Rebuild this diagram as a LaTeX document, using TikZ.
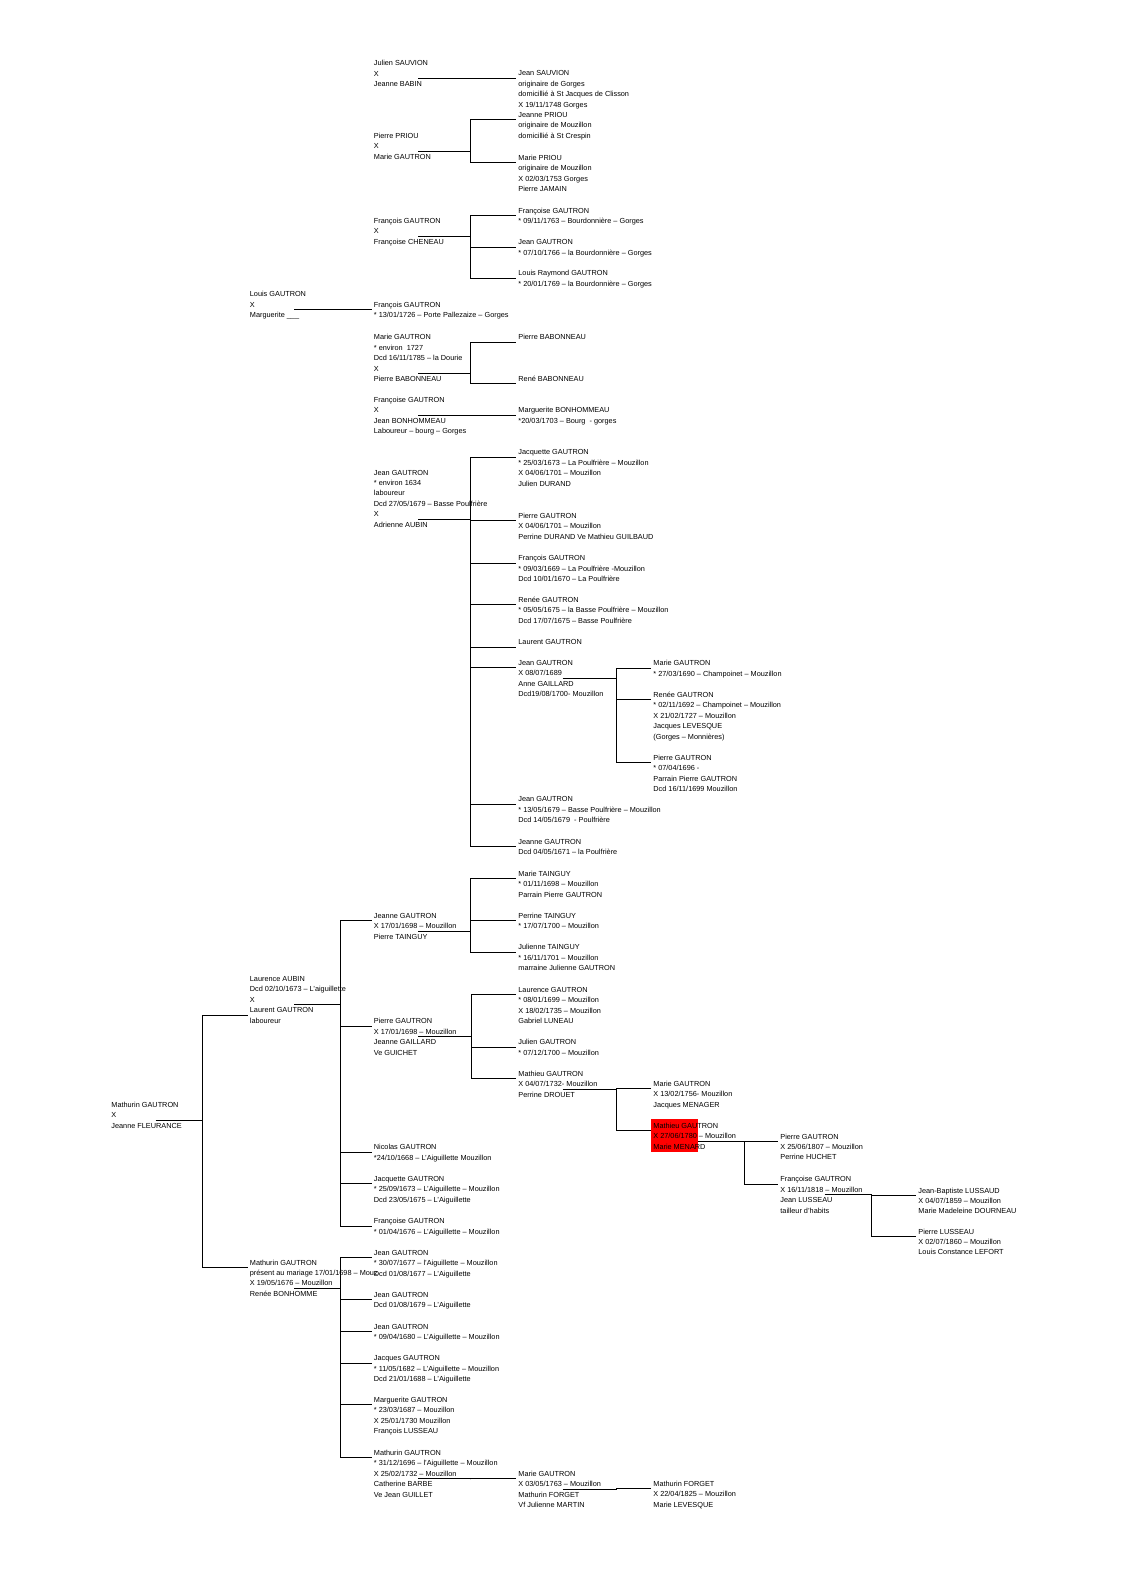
\documentclass[tikz,border=0pt]{standalone}
\usepackage{fontspec}
\setmainfont{Liberation Sans}
\usetikzlibrary{calc,backgrounds}

\newcommand{\fiche}[1]{\begin{tabular}{@{}l@{}}#1\end{tabular}}
% couple line from the parent's X row, then one branch per child
\newcommand{\famille}[4]{%
  \coordinate (#1-j) at ($(#1.north west)+(#3,{10.1+10.45*#2})$);
  \draw[link] ($(#1.north west)+(44.5,{10.1+10.45*#2})$) -- (#1-j);
  \foreach \enf/\rg in {#4}
    {\draw[link] (#1-j) |- ($(\enf.north west)+(-2,{10.1+10.45*\rg})$);}
}

\tikzset{
  person/.style={anchor=north west, inner sep=0pt, yshift=2.35pt,
    font=\fontsize{3.66}{5.225}\selectfont},
  link/.style={draw=black, line width=0.5pt}
}

\begin{document}
\begin{tikzpicture}[x=0.5pt, y=-0.5pt]
  \useasboundingbox (0,0) rectangle (1123,1588);

  % Sauvion, Priou
  \node[person] (julien) at (373.5,62.7) {\fiche{Julien SAUVION\\X\\Jeanne BABIN}};
  \node[person] (jeansauvion) at (518,72.7) {\fiche{Jean SAUVION\\originaire de Gorges\\domicillié à St Jacques de Clisson\\X 19/11/1748 Gorges\\Jeanne PRIOU\\originaire de Mouzillon\\domicillié à St Crespin}};
  \node[person] (pierrepriou) at (373.5,135.3) {\fiche{Pierre PRIOU\\X\\Marie GAUTRON}};
  \node[person] (mariepriou) at (518,157.3) {\fiche{Marie PRIOU\\originaire de Mouzillon\\X 02/03/1753 Gorges\\Pierre JAMAIN}};

  % Gorges
  \node[person] (francoise63) at (518,210) {\fiche{Françoise GAUTRON\\{}* 09/11/1763 – Bourdonnière – Gorges}};
  \node[person] (francoisg) at (373.5,220.3) {\fiche{François GAUTRON\\X\\Françoise CHENEAU}};
  \node[person] (jean66) at (518,241.7) {\fiche{Jean GAUTRON\\{}* 07/10/1766 – la Bourdonnière – Gorges}};
  \node[person] (louisraymond) at (518,272.7) {\fiche{Louis Raymond GAUTRON\\{}* 20/01/1769 – la Bourdonnière – Gorges}};
  \node[person] (louis) at (249.5,293.7) {\fiche{Louis GAUTRON\\X\\Marguerite \_\_\_}};
  \node[person] (francois26) at (373.5,304) {\fiche{François GAUTRON\\{}* 13/01/1726 – Porte Pallezaize – Gorges}};
  \node[person] (marie27) at (373.5,336.7) {\fiche{Marie GAUTRON\\{}* environ~~1727\\Dcd 16/11/1785 – la Dourie\\X\\Pierre BABONNEAU}};
  \node[person] (pierrebab) at (518,336.7) {\fiche{Pierre BABONNEAU}};
  \node[person] (renebab) at (518,378.3) {\fiche{René BABONNEAU}};
  \node[person] (francoiseb) at (373.5,399.3) {\fiche{Françoise GAUTRON\\X\\Jean BONHOMMEAU\\Laboureur – bourg – Gorges}};
  \node[person] (marguerite03) at (518,409.7) {\fiche{Marguerite BONHOMMEAU\\{}*20/03/1703 – Bourg~~- gorges}};

  % Poulfriere
  \node[person] (jacquette73) at (518,451.7) {\fiche{Jacquette GAUTRON\\{}* 25/03/1673 – La Poulfrière – Mouzillon\\X 04/06/1701 – Mouzillon\\Julien DURAND}};
  \node[person] (jean34) at (373.5,472) {\fiche{Jean GAUTRON\\{}* environ 1634\\laboureur\\Dcd 27/05/1679 – Basse Poulfrière\\X\\Adrienne AUBIN}};
  \node[person] (pierre01) at (518,515.3) {\fiche{Pierre GAUTRON\\X 04/06/1701 – Mouzillon\\Perrine DURAND Ve Mathieu GUILBAUD}};
  \node[person] (francois69) at (518,557.7) {\fiche{François GAUTRON\\{}* 09/03/1669 – La Poulfrière -Mouzillon\\Dcd 10/01/1670 – La Poulfrière}};
  \node[person] (renee75) at (518,599.3) {\fiche{Renée GAUTRON\\{}* 05/05/1675 – la Basse Poulfrière – Mouzillon\\Dcd 17/07/1675 – Basse Poulfrière}};
  \node[person] (laurent) at (518,641.7) {\fiche{Laurent GAUTRON}};
  \node[person] (jean89) at (518,662.3) {\fiche{Jean GAUTRON\\X 08/07/1689\\Anne GAILLARD\\Dcd19/08/1700- Mouzillon}};
  \node[person] (marie90) at (653,662.7) {\fiche{Marie GAUTRON\\{}* 27/03/1690 – Champoinet – Mouzillon}};
  \node[person] (renee92) at (653,694.3) {\fiche{Renée GAUTRON\\{}* 02/11/1692 – Champoinet – Mouzillon\\X 21/02/1727 – Mouzillon\\Jacques LEVESQUE\\(Gorges – Monnières)}};
  \node[person] (pierre96) at (653,757.3) {\fiche{Pierre GAUTRON\\{}* 07/04/1696 -\\Parrain Pierre GAUTRON\\Dcd 16/11/1699 Mouzillon}};
  \node[person] (jean79) at (518,798.7) {\fiche{Jean GAUTRON\\{}* 13/05/1679 – Basse Poulfrière – Mouzillon\\Dcd 14/05/1679~~- Poulfrière}};
  \node[person] (jeanne71) at (518,841.3) {\fiche{Jeanne GAUTRON\\Dcd 04/05/1671 – la Poulfrière}};

  % Tainguy, Gaillard
  \node[person] (marieT) at (518,873.3) {\fiche{Marie TAINGUY\\{}* 01/11/1698 – Mouzillon\\Parrain Pierre GAUTRON}};
  \node[person] (perrineT) at (518,915.3) {\fiche{Perrine TAINGUY\\{}* 17/07/1700 – Mouzillon}};
  \node[person] (julienneT) at (518,946.7) {\fiche{Julienne TAINGUY\\{}* 16/11/1701 – Mouzillon\\marraine Julienne GAUTRON}};
  \node[person] (jeanne98) at (373.5,915.3) {\fiche{Jeanne GAUTRON\\X 17/01/1698 – Mouzillon\\Pierre TAINGUY}};
  \node[person] (laurence) at (249.5,978.3) {\fiche{Laurence AUBIN\\Dcd 02/10/1673 – L'aiguillette\\X\\Laurent GAUTRON\\laboureur}};
  \node[person] (laurence99) at (518,989.3) {\fiche{Laurence GAUTRON\\{}* 08/01/1699 – Mouzillon\\X 18/02/1735 – Mouzillon\\Gabriel LUNEAU}};
  \node[person] (pierre98) at (373.5,1020.7) {\fiche{Pierre GAUTRON\\X 17/01/1698 – Mouzillon\\Jeanne GAILLARD\\Ve GUICHET}};
  \node[person] (julien00) at (518,1041.7) {\fiche{Julien GAUTRON\\{}* 07/12/1700 – Mouzillon}};
  \node[person] (mathieu32) at (518,1073.3) {\fiche{Mathieu GAUTRON\\X 04/07/1732- Mouzillon\\Perrine DROUET}};
  \node[person] (marie56) at (653,1083.3) {\fiche{Marie GAUTRON\\X 13/02/1756- Mouzillon\\Jacques MENAGER}};
  \node[person] (mathurin) at (111,1104.3) {\fiche{Mathurin GAUTRON\\X\\Jeanne FLEURANCE}};
  \node[person] (mathieu80) at (653,1125.3) {\fiche{Mathieu GAUTRON\\X 27/06/1780 – Mouzillon\\Marie MENARD}};
  \node[person] (pierre07) at (780,1136) {\fiche{Pierre GAUTRON\\X 25/06/1807 – Mouzillon\\Perrine HUCHET}};
  \node[person] (francoise18) at (780,1178.7) {\fiche{Françoise GAUTRON\\X 16/11/1818 – Mouzillon\\Jean LUSSEAU\\tailleur d'habits}};
  \node[person] (jeanbaptiste) at (918,1190) {\fiche{Jean-Baptiste LUSSAUD\\X 04/07/1859 – Mouzillon\\Marie Madeleine DOURNEAU}};
  \node[person] (pierre60) at (918,1231) {\fiche{Pierre LUSSEAU\\X 02/07/1860 – Mouzillon\\Louis Constance LEFORT}};

  % L'Aiguillette
  \node[person] (nicolas) at (373.5,1146.7) {\fiche{Nicolas GAUTRON\\{}*24/10/1668 – L'Aiguillette Mouzillon}};
  \node[person] (jacquette75) at (373.5,1178.3) {\fiche{Jacquette GAUTRON\\{}* 25/09/1673 – L'Aiguillette – Mouzillon\\Dcd 23/05/1675 – L'Aiguillette}};
  \node[person] (francoise76) at (373.5,1220.7) {\fiche{Françoise GAUTRON\\{}* 01/04/1676 – L'Aiguillette – Mouzillon}};
  \node[person] (jean77) at (373.5,1252.3) {\fiche{Jean GAUTRON\\{}* 30/07/1677 – l'Aiguillette – Mouzillon\\Dcd 01/08/1677 – L'Aiguillette}};
  \node[person] (mathurin76) at (249.5,1262) {\fiche{Mathurin GAUTRON\\présent au mariage 17/01/1698 – Mouz\\X 19/05/1676 – Mouzillon\\Renée BONHOMME}};
  \node[person] (jean79b) at (373.5,1294.3) {\fiche{Jean GAUTRON\\Dcd 01/08/1679 – L'Aiguillette}};
  \node[person] (jean80) at (373.5,1326) {\fiche{Jean GAUTRON\\{}* 09/04/1680 – L'Aiguillette – Mouzillon}};
  \node[person] (jacques82) at (373.5,1357.7) {\fiche{Jacques GAUTRON\\{}* 11/05/1682 – L'Aiguillette – Mouzillon\\Dcd 21/01/1688 – L'Aiguillette}};
  \node[person] (marguerite87) at (373.5,1399.3) {\fiche{Marguerite GAUTRON\\{}* 23/03/1687 – Mouzillon\\X 25/01/1730 Mouzillon\\François LUSSEAU}};
  \node[person] (mathurin96) at (373.5,1452.3) {\fiche{Mathurin GAUTRON\\{}* 31/12/1696 – l'Aiguillette – Mouzillon\\X 25/02/1732 – Mouzillon\\Catherine BARBE\\Ve Jean GUILLET}};
  \node[person] (marie63) at (518,1473.3) {\fiche{Marie GAUTRON\\X 03/05/1763 – Mouzillon\\Mathurin FORGET\\Vf Julienne MARTIN}};
  \node[person] (mathurinF) at (653,1483.3) {\fiche{Mathurin FORGET\\X 22/04/1825 – Mouzillon\\Marie LEVESQUE}};

  \begin{pgfonlayer}{background}
    \fill[red] ($(mathieu80.north west)+(-2,-1.6)$) rectangle ++(47,32.7);
  \end{pgfonlayer}

  % links
  \famille{julien}{1}{97}{jeansauvion/0}
  \famille{pierrepriou}{1}{97}{jeansauvion/4, mariepriou/0}
  \famille{francoisg}{1}{97}{francoise63/0, jean66/0, louisraymond/0}
  \famille{louis}{1}{90.5}{francois26/0}
  \famille{marie27}{3}{97}{pierrebab/0, renebab/0}
  \famille{francoiseb}{1}{97}{marguerite03/0}
  \famille{jean34}{4}{97}{jacquette73/0, pierre01/0, francois69/0, renee75/0, laurent/0, jean89/0, jean79/0, jeanne71/0}
  \famille{jean89}{1}{98.7}{marie90/0, renee92/0, pierre96/0}
  \famille{jeanne98}{1}{97}{marieT/0, perrineT/0, julienneT/0}
  \famille{pierre98}{1}{97.5}{laurence99/0, julien00/0, mathieu32/0}
  \famille{mathieu32}{1}{98.7}{marie56/0, mathieu80/0}
  \famille{mathieu80}{1}{91}{pierre07/0, francoise18/0}
  \famille{francoise18}{1}{91.7}{jeanbaptiste/0, pierre60/0}
  \famille{laurence}{2}{90.5}{jeanne98/0, pierre98/0, nicolas/0, jacquette75/0, francoise76/0}
  \famille{mathurin}{1}{91}{laurence/3, mathurin76/0}
  \famille{mathurin76}{2}{90.5}{jean77/0, jean79b/0, jean80/0, jacques82/0, marguerite87/0, mathurin96/0}
  \famille{mathurin96}{2}{97}{marie63/0}
  \famille{marie63}{1}{98.7}{mathurinF/0}
\end{tikzpicture}
\end{document}
